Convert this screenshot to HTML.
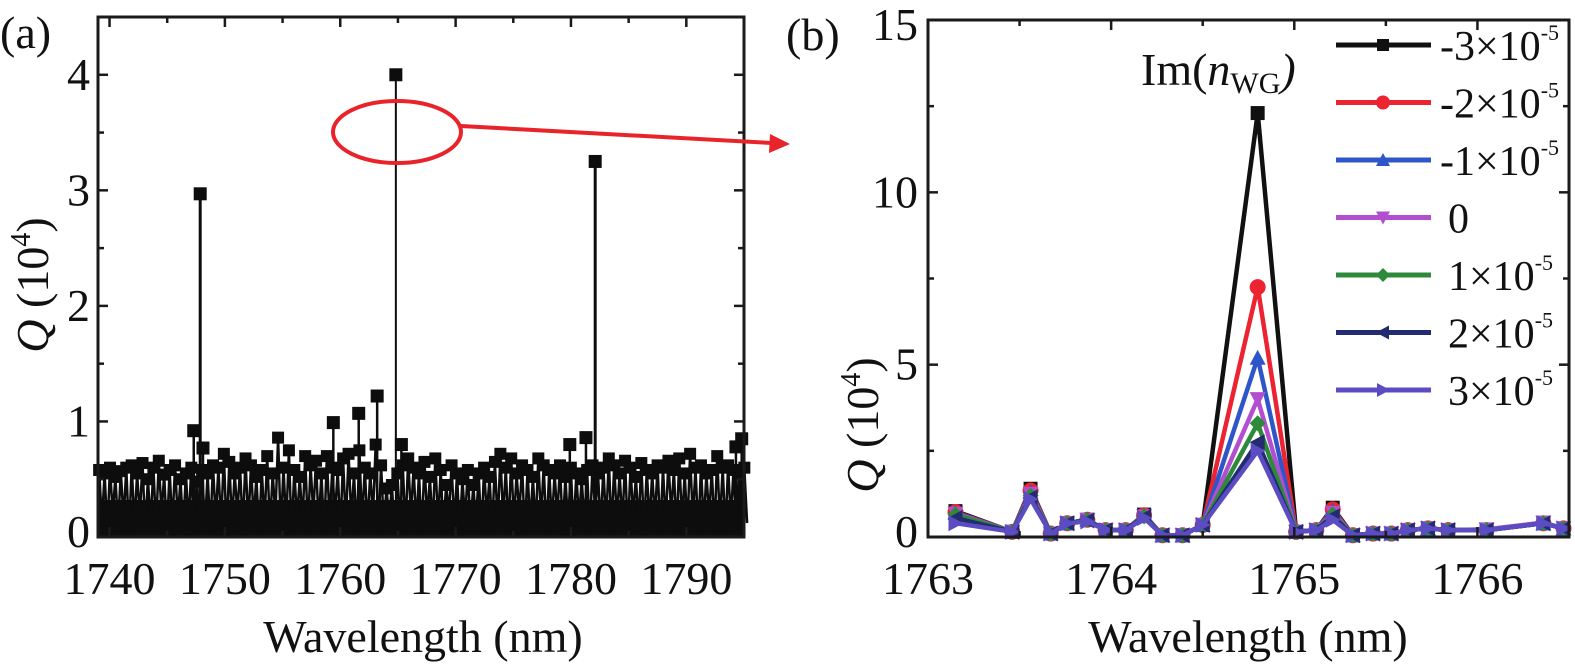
<!DOCTYPE html>
<html><head><meta charset="utf-8"><style>
html,body{margin:0;padding:0;background:#fff;}
svg, svg text{font-family:"Liberation Serif","DejaVu Serif","Times New Roman",serif;}
</style></head><body>
<svg id="fig" width="1575" height="664" viewBox="0 0 1575 664" xmlns="http://www.w3.org/2000/svg" font-family="Liberation Serif, DejaVu Serif, serif">
<g id="pa"></g>
<g id="pb"></g>
<g>
  <text x="0" y="48" font-size="46" fill="#111">(a)</text>
  <text x="786" y="50" font-size="46" fill="#111">(b)</text>
  <text transform="translate(48,285) rotate(-90)" font-size="46" text-anchor="middle" fill="#111"><tspan font-style="italic">Q</tspan> (10<tspan font-size="28" dy="-18">4</tspan><tspan dy="18">)</tspan></text>
  <text transform="translate(878,425) rotate(-90)" font-size="46" text-anchor="middle" fill="#111"><tspan font-style="italic">Q</tspan> (10<tspan font-size="28" dy="-18">4</tspan><tspan dy="18">)</tspan></text>
  <text x="423" y="652" font-size="46" text-anchor="middle" fill="#111">Wavelength (nm)</text>
  <text x="1248" y="652" font-size="46" text-anchor="middle" fill="#111">Wavelength (nm)</text>
  <text x="1141" y="85" font-size="46" fill="#111">Im(<tspan font-style="italic">n</tspan><tspan font-size="30" dy="8">WG</tspan><tspan dy="-8" font-style="italic">)</tspan></text>
  <ellipse cx="397" cy="132" rx="64" ry="31" fill="none" stroke="#e8232a" stroke-width="4"/>
  <line x1="461" y1="126" x2="772" y2="143" stroke="#e8232a" stroke-width="4"/>
  <polygon points="790,144 770,134 769,153" fill="#e8232a"/>
</g>
</svg>
<script>
// ---------- Panel (a) data ----------
const aXTicks = [1740,1750,1760,1770,1780,1790];
const aYTicks = [0,1,2,3,4];
const aBgStart = 1739.1, aBgStep = 0.47;
const aBgHigh = [0.58,0.55,0.6,0.52,0.57,0.6,0.62,0.55,0.64,0.5,0.6,0.66,0.54,0.58,0.62,0.5,0.55,0.6,0.48,0.58,
 0.55,0.62,0.6,0.72,0.65,0.55,0.6,0.68,0.62,0.52,0.58,0.7,0.55,0.86,0.6,0.75,0.58,0.52,0.7,0.62,
 0.66,0.55,0.7,0.6,0.58,0.68,0.72,0.55,0.75,0.6,0.55,0.8,0.62,0.42,0.45,0.55,0.62,0.68,0.6,0.55,
 0.65,0.52,0.68,0.58,0.45,0.62,0.55,0.5,0.58,0.45,0.55,0.6,0.52,0.65,0.72,0.6,0.68,0.55,0.62,0.58,
 0.52,0.68,0.62,0.58,0.55,0.62,0.52,0.6,0.55,0.5,0.58,0.62,0.55,0.6,0.68,0.62,0.55,0.66,0.6,0.52,
 0.64,0.58,0.55,0.62,0.6,0.66,0.58,0.68,0.55,0.72,0.6,0.62,0.55,0.58,0.7,0.6,0.62,0.58,0.55,0.6];
const aBgLow = [0.12,0.05,0.2,0.08,0.15,0.02,0.1,0.18,0.05,0.12,0.08,0.2,0.03,0.1,0.15,0.06,0.12,0.02,0.18,0.08,
 0.05,0.15,0.1,0.02,0.12,0.2,0.06,0.1,0.15,0.03,0.12,0.08,0.18,0.05,0.1,0.02,0.15,0.12,0.06,0.2,
 0.1,0.03,0.12,0.18,0.05,0.1,0.15,0.02,0.12,0.08,0.2,0.05,0.1,0.15,0.03,0.12,0.06,0.18,0.1,0.02,
 0.15,0.08,0.12,0.05,0.2,0.1,0.03,0.15,0.08,0.12,0.02,0.18,0.06,0.1,0.15,0.05,0.12,0.2,0.03,0.1,
 0.08,0.15,0.02,0.12,0.18,0.06,0.1,0.05,0.15,0.12,0.03,0.2,0.08,0.1,0.05,0.15,0.12,0.02,0.18,0.1,
 0.06,0.12,0.15,0.03,0.1,0.2,0.05,0.12,0.08,0.15,0.02,0.1,0.18,0.06,0.12,0.05,0.15,0.1,0.03,0.12];
const aPeakX = [1747.3,1747.86,1748.1,1759.4,1761.6,1763.2,1764.82,1765.3,1779.9,1781.3,1782.1,1794.3,1794.8];
const aPeakY = [0.92,2.97,0.77,0.99,1.07,1.22,4.0,0.8,0.8,0.86,3.25,0.78,0.85];

// ---------- Panel (b) data ----------
const bXTicks = [1763,1764,1765,1766];
const bYTicks = [0,5,10,15];
const bX = [1763.15,1763.46,1763.56,1763.67,1763.76,1763.87,1763.97,1764.08,1764.18,1764.28,1764.39,1764.5,1764.8,1765.01,1765.12,1765.21,1765.32,1765.43,1765.53,1765.62,1765.73,1765.84,1766.05,1766.36,1766.47];
const bS1 = [0.75,0.15,1.4,0.1,0.4,0.5,0.2,0.2,0.65,0.05,0.05,0.35,12.3,0.15,0.2,0.85,0.05,0.1,0.1,0.2,0.25,0.2,0.2,0.4,0.25];
const bS2 = [0.72,0.15,1.35,0.1,0.4,0.5,0.2,0.2,0.63,0.05,0.05,0.35,7.25,0.15,0.2,0.8,0.05,0.1,0.1,0.2,0.25,0.2,0.2,0.4,0.25];
const bS3 = [0.7,0.15,1.3,0.1,0.4,0.5,0.2,0.2,0.62,0.05,0.05,0.35,5.2,0.15,0.2,0.75,0.05,0.1,0.1,0.2,0.25,0.2,0.2,0.4,0.25];
const bS4 = [0.68,0.15,1.25,0.1,0.4,0.5,0.2,0.2,0.6,0.05,0.05,0.35,4.0,0.15,0.2,0.7,0.05,0.1,0.1,0.2,0.25,0.2,0.22,0.42,0.25];
const bS5 = [0.65,0.15,1.2,0.1,0.4,0.5,0.2,0.2,0.6,0.05,0.05,0.35,3.3,0.15,0.2,0.65,0.05,0.1,0.1,0.2,0.25,0.2,0.2,0.4,0.25];
const bS6 = [0.55,0.15,1.15,0.1,0.4,0.48,0.2,0.2,0.58,0.05,0.05,0.35,2.75,0.15,0.2,0.6,0.05,0.1,0.1,0.2,0.25,0.2,0.2,0.4,0.25];
const bS7 = [0.4,0.15,1.1,0.1,0.4,0.45,0.2,0.2,0.55,0.05,0.05,0.35,2.5,0.15,0.2,0.5,0.05,0.1,0.1,0.2,0.25,0.2,0.2,0.4,0.25];
const bLabels = ["-3","-2","-1","0","1","2","3"];

const NS="http://www.w3.org/2000/svg";
function mk(parent,tag,attrs){const e=document.createElementNS(NS,tag);for(const k in attrs)e.setAttribute(k,attrs[k]);parent.appendChild(e);return e;}

// ---------- Panel (a) ----------
const pa=document.getElementById('pa');
const aL=98,aR=744,aT=17,aB=537,ax0=1739,ax1=1795,ay1=4.5;
const axA=v=>aL+(v-ax0)/(ax1-ax0)*(aR-aL);
const ayA=v=>aB-v/ay1*(aB-aT);
let d="";
for(let i=0;i<aBgHigh.length;i++){
  const xh=aBgStart+i*aBgStep, xl=xh+aBgStep/2;
  d+=(i?"L":"M")+axA(xh).toFixed(1)+" "+ayA(aBgHigh[i]).toFixed(1)+" L"+axA(xl).toFixed(1)+" "+ayA(aBgLow[i]).toFixed(1)+" ";
}
const noiseFill=mk(pa,'rect',{x:aL,y:ayA(0.32),width:aR-aL,height:aB-ayA(0.32),fill:'#0d0d0d'});


const noise=mk(pa,'path',{d:d,fill:'none',stroke:'#0d0d0d','stroke-width':2.5});


for(let i=0;i<aBgHigh.length;i++){
  const xh=aBgStart+i*aBgStep;
  const m=mk(pa,'rect',{x:axA(xh)-6,y:ayA(aBgHigh[i])-6,width:12,height:12,fill:'#0d0d0d'});
  
  
}
for(let i=0;i<aPeakX.length;i++){
  const s=mk(pa,'line',{x1:axA(aPeakX[i]),x2:axA(aPeakX[i]),y1:ayA(0.3),y2:ayA(aPeakY[i]),stroke:'#0d0d0d','stroke-width':aPeakY[i]>2?(i==6?2:3):2.5});
  
  
  const m=mk(pa,'rect',{x:axA(aPeakX[i])-6.5,y:ayA(aPeakY[i])-6.5,width:13,height:13,fill:'#0d0d0d'});
  
  
}
const fa=mk(pa,'rect',{x:aL,y:aT,width:aR-aL,height:aB-aT,fill:'none',stroke:'#1a1a1a','stroke-width':3});


for(let v=1740;v<=1795;v+=5){
  const len=(v%10==0)?10:6;
  mk(pa,'line',{x1:axA(v),x2:axA(v),y1:aT,y2:aT+len,stroke:'#1a1a1a','stroke-width':2.5});
  mk(pa,'line',{x1:axA(v),x2:axA(v),y1:aB,y2:aB-len,stroke:'#1a1a1a','stroke-width':2.5});
}
for(let v=0.5;v<=4.5;v+=0.5){
  const len=(v%1==0)?10:6;
  mk(pa,'line',{x1:aL,x2:aL+len,y1:ayA(v),y2:ayA(v),stroke:'#1a1a1a','stroke-width':2.5});
  mk(pa,'line',{x1:aR,x2:aR-len,y1:ayA(v),y2:ayA(v),stroke:'#1a1a1a','stroke-width':2.5});
}
aXTicks.forEach(v=>{const t=mk(pa,'text',{x:axA(v),y:594,'font-size':46,'text-anchor':'middle',fill:'#111'});t.textContent=v;
  
  });
aYTicks.forEach(v=>{const t=mk(pa,'text',{x:90,y:ayA(v)+(v==0?10:15),'font-size':46,'text-anchor':'end',fill:'#111'});t.textContent=v;
  
  });

// ---------- Panel (b) ----------
const pb=document.getElementById('pb');
const bL=928,bR=1569,bT=20,bB=537,bx0=1763,bx1=1766.5,by1=15;
const axB=v=>bL+(v-bx0)/(bx1-bx0)*(bR-bL);
const ayB=v=>bB-v/by1*(bB-bT);
const bSeries=[bS1,bS2,bS3,bS4,bS5,bS6,bS7];
const bColors=['#111111','#ec2330','#2f56c8','#b24fd0','#2d8a3a','#232c6e','#5b4cc4'];
const bMarks=['square','circle','up','down','diamond','left','right'];
function marker(g,type,x,y,r,c){
  let e;
  if(type=='square') e=mk(g,'rect',{x:x-r,y:y-r,width:2*r,height:2*r,fill:c});
  else if(type=='circle') e=mk(g,'circle',{cx:x,cy:y,r:r+1,fill:c});
  else{
    let p;
    if(type=='up') p=[[x,y-r-1],[x+r+1,y+r],[x-r-1,y+r]];
    else if(type=='down') p=[[x,y+r+1],[x+r+1,y-r],[x-r-1,y-r]];
    else if(type=='diamond') p=[[x,y-r-1],[x+r+1,y],[x,y+r+1],[x-r-1,y]];
    else if(type=='left') p=[[x-r-1,y],[x+r,y-r-1],[x+r,y+r+1]];
    else p=[[x+r+1,y],[x-r,y-r-1],[x-r,y+r+1]];
    e=mk(g,'polygon',{points:p.map(q=>q.join(',')).join(' '),fill:c});
  }
  return e;
}
bSeries.forEach((s,k)=>{
  const g=mk(pb,'g',{});
  
  
  const pts=bX.map((x,i)=>axB(x).toFixed(1)+','+ayB(s[i]).toFixed(1)).join(' ');
  const pl=mk(g,'polyline',{points:pts,fill:'none',stroke:bColors[k],'stroke-width':4.5,'stroke-linejoin':'round'});
  
  
  bX.forEach((x,i)=>{const m=marker(g,bMarks[k],axB(x),ayB(s[i]),7,bColors[k]);
    
    });
});
const fb=mk(pb,'rect',{x:bL,y:bT,width:bR-bL,height:bB-bT,fill:'none',stroke:'#1a1a1a','stroke-width':3});


for(let v=1763;v<=1766.5;v+=0.5){
  const len=(v%1==0)?10:6;
  mk(pb,'line',{x1:axB(v),x2:axB(v),y1:bT,y2:bT+len,stroke:'#1a1a1a','stroke-width':2.5});
  mk(pb,'line',{x1:axB(v),x2:axB(v),y1:bB,y2:bB-len,stroke:'#1a1a1a','stroke-width':2.5});
}
for(let v=2.5;v<15;v+=2.5){
  const len=(v%5==0)?10:6;
  mk(pb,'line',{x1:bL,x2:bL+len,y1:ayB(v),y2:ayB(v),stroke:'#1a1a1a','stroke-width':2.5});
  mk(pb,'line',{x1:bR,x2:bR-len,y1:ayB(v),y2:ayB(v),stroke:'#1a1a1a','stroke-width':2.5});
}
bXTicks.forEach(v=>{const t=mk(pb,'text',{x:axB(v),y:594,'font-size':46,'text-anchor':'middle',fill:'#111'});t.textContent=v;
  
  });
bYTicks.forEach(v=>{const t=mk(pb,'text',{x:918,y:ayB(v)+(v==0?10:(v==15?20:15)),'font-size':46,'text-anchor':'end',fill:'#111'});t.textContent=v;
  
  });
bLabels.forEach((lab,k)=>{
  const y=45+k*57.5;
  const g=mk(pb,'g',{});
  
  
  mk(g,'line',{x1:1336,x2:1431,y1:y,y2:y,stroke:bColors[k],'stroke-width':5});
  marker(g,bMarks[k],1383,y,6,bColors[k]);
  const t=mk(g,'text',{x:(lab[0]=='-'?1440:1448),y:y+15,'font-size':42,fill:'#111'});
  if(lab=='0'){t.textContent='0';}
  else{
    const s1=mk(t,'tspan',{});s1.textContent=lab+'\u00d710';
    const s2=mk(t,'tspan',{dy:-20,'font-size':22});s2.textContent='-5';
  }
});
</script>
</body></html>
